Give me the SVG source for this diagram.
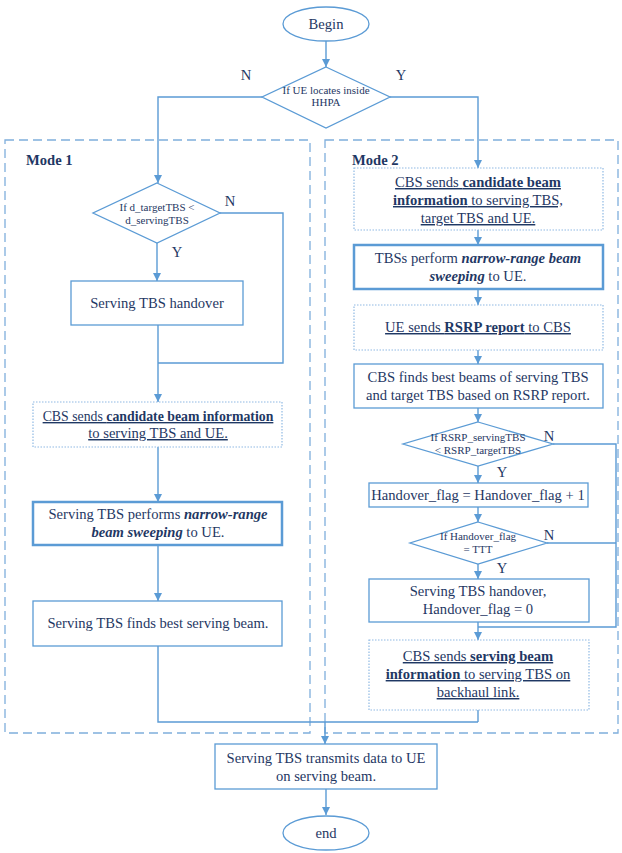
<svg xmlns="http://www.w3.org/2000/svg" width="622" height="853" viewBox="0 0 622 853" font-family="Liberation Serif, DejaVu Serif, serif">
<defs>
<marker id="ah" markerWidth="10" markerHeight="10" refX="9" refY="5" orient="auto" markerUnits="userSpaceOnUse">
<path d="M1,1 L9,5 L1,9 Z" fill="#5B9BD5"/>
</marker>
<style>
text{font-family:'Liberation Serif','DejaVu Serif',serif}
.t{font-size:14.6px;fill:#1F3864;text-anchor:middle}
.s{font-size:11px}
.n{font-size:13.8px}
.m{font-size:14.6px;font-weight:bold;fill:#1F3864}
.u{text-decoration:underline}
.b{font-weight:bold}
.bi{font-weight:bold;font-style:italic}
.box{fill:#fff;stroke:#5B9BD5;stroke-width:1.3}
.thick{fill:#fff;stroke:#5B9BD5;stroke-width:2.5}
.dot{fill:#fff;stroke:#8FB9E3;stroke-width:1.2;stroke-dasharray:1.5 1.5}
.mode{fill:none;stroke:#7FAEDC;stroke-width:1.3;stroke-dasharray:9 5}
.c{fill:none;stroke:#5B9BD5;stroke-width:1.4}
.a{marker-end:url(#ah)}
</style>
</defs>
<rect width="622" height="853" fill="#fff"/>
<g id="mode1"><rect class="mode" x="5" y="140" width="305" height="593"/><text class="m" x="26" y="165">Mode 1</text></g>
<g id="mode2"><rect class="mode" x="325" y="140" width="293" height="593"/><text class="m" x="352" y="165">Mode 2</text></g>

<g id="connectors">
<path class="c a" d="M326,41 L326,67"/>
<path class="c a" d="M262,97 L158,97 L158,183"/>
<path class="c a" d="M390,97 L478,97 L478,168"/>
<path class="c a" d="M157,243 L157,281"/>
<path class="c" d="M220,213 L283,213 L283,363 L158,363"/>
<path class="c a" d="M158,325 L158,402"/>
<path class="c a" d="M158,447 L158,502"/>
<path class="c a" d="M158,545 L158,601"/>
<path class="c" d="M158,646 L158,722 L478,722"/>
<path class="c a" d="M478,230 L478,245"/>
<path class="c a" d="M478,289 L478,305"/>
<path class="c a" d="M478,350 L478,364"/>
<path class="c a" d="M478,408 L478,422"/>
<path class="c a" d="M478,466 L478,483"/>
<path class="c a" d="M478,507 L478,522"/>
<path class="c a" d="M478,564 L478,579"/>
<path class="c a" d="M478,622 L478,640"/>
<path class="c" d="M478,710 L478,722"/>
<path class="c" d="M553,444 L616,444 L616,627 L478,627"/>
<path class="c" d="M547,543 L616,543"/>
<path class="c a" d="M325,722 L325,744"/>
<path class="c a" d="M326,789 L326,815"/>
<text class="t" x="246" y="80">N</text>
<text class="t" x="401" y="80">Y</text>
<text class="t" x="230" y="206">N</text>
<text class="t" x="177" y="257">Y</text>
<text class="t" x="549" y="441">N</text>
<text class="t" x="502" y="477">Y</text>
<text class="t" x="549" y="540">N</text>
<text class="t" x="502" y="573">Y</text>
</g>

<g id="begin"><ellipse class="box" cx="326" cy="24" rx="43" ry="17"/><text class="t" x="326" y="29">Begin</text></g>
<g id="d0"><polygon class="box" points="326,67 390,97 326,128 262,97"/><text class="t s" x="326" y="94">If UE locates inside</text><text class="t s" x="326" y="106">HHPA</text></g>

<g id="m1d"><polygon class="box" points="157,183 220,213 157,243 93,213"/><text class="t s" x="157" y="211">If d_targetTBS &lt;</text><text class="t s" x="157" y="224">d_servingTBS</text></g>
<g id="m1b1"><rect class="box" x="71" y="281" width="172" height="44"/><text class="t" x="157" y="308">Serving TBS handover</text></g>
<g id="m1b2"><rect class="dot" x="33" y="402" width="249" height="45"/><text class="t u n" x="158" y="421">CBS sends <tspan class="b">candidate beam information</tspan></text><text class="t u" x="158" y="438">to serving TBS and UE.</text></g>
<g id="m1b3"><rect class="thick" x="33" y="502" width="249" height="43"/><text class="t" x="158" y="519">Serving TBS performs <tspan class="bi">narrow-range</tspan></text><text class="t" x="158" y="537"><tspan class="bi">beam sweeping</tspan> to UE.</text></g>
<g id="m1b4"><rect class="box" x="33" y="601" width="249" height="45"/><text class="t" x="158" y="628">Serving TBS finds best serving beam.</text></g>

<g id="m2b1"><rect class="dot" x="354" y="168" width="249" height="62"/><text class="t u" x="478" y="187">CBS sends <tspan class="b">candidate beam</tspan></text><text class="t u" x="478" y="205"><tspan class="b">information</tspan> to serving TBS,</text><text class="t u" x="478" y="223">target TBS and UE.</text></g>
<g id="m2b2"><rect class="thick" x="354" y="245" width="249" height="44"/><text class="t" x="478" y="263">TBSs perform <tspan class="bi">narrow-range beam</tspan></text><text class="t" x="478" y="281"><tspan class="bi">sweeping</tspan> to UE.</text></g>
<g id="m2b3"><rect class="dot" x="354" y="305" width="249" height="45"/><text class="t u" x="478" y="332">UE sends <tspan class="b">RSRP report</tspan> to CBS</text></g>
<g id="m2b4"><rect class="box" x="354" y="364" width="249" height="44"/><text class="t" x="478" y="382">CBS finds best beams of serving TBS</text><text class="t" x="478" y="400">and target TBS based on RSRP report.</text></g>
<g id="m2d1"><polygon class="box" points="478,422 553,444 478,466 403,444"/><text class="t s" x="478" y="441">If RSRP_servingTBS</text><text class="t s" x="478" y="454">&lt; RSRP_targetTBS</text></g>
<g id="m2b5"><rect class="box" x="369" y="483" width="219" height="24"/><text class="t" x="478" y="500">Handover_flag = Handover_flag + 1</text></g>
<g id="m2d2"><polygon class="box" points="478,522 547,543 478,564 410,543"/><text class="t s" x="478" y="540">If Handover_flag</text><text class="t s" x="478" y="553">= TTT</text></g>
<g id="m2b6"><rect class="box" x="369" y="579" width="220" height="43"/><text class="t" x="478" y="596">Serving TBS handover,</text><text class="t" x="478" y="614">Handover_flag = 0</text></g>
<g id="m2b7"><rect class="dot" x="369" y="640" width="220" height="70"/><text class="t u" x="478" y="661">CBS sends <tspan class="b">serving beam</tspan></text><text class="t u" x="478" y="679"><tspan class="b">information</tspan> to serving TBS on</text><text class="t u" x="478" y="697">backhaul link.</text></g>

<g id="final"><rect class="box" x="215" y="744" width="222" height="45"/><text class="t" x="326" y="763">Serving TBS transmits data to UE</text><text class="t" x="326" y="781">on serving beam.</text></g>
<g id="end"><ellipse class="box" cx="326" cy="833" rx="43" ry="17"/><text class="t" x="326" y="838">end</text></g>
</svg>
